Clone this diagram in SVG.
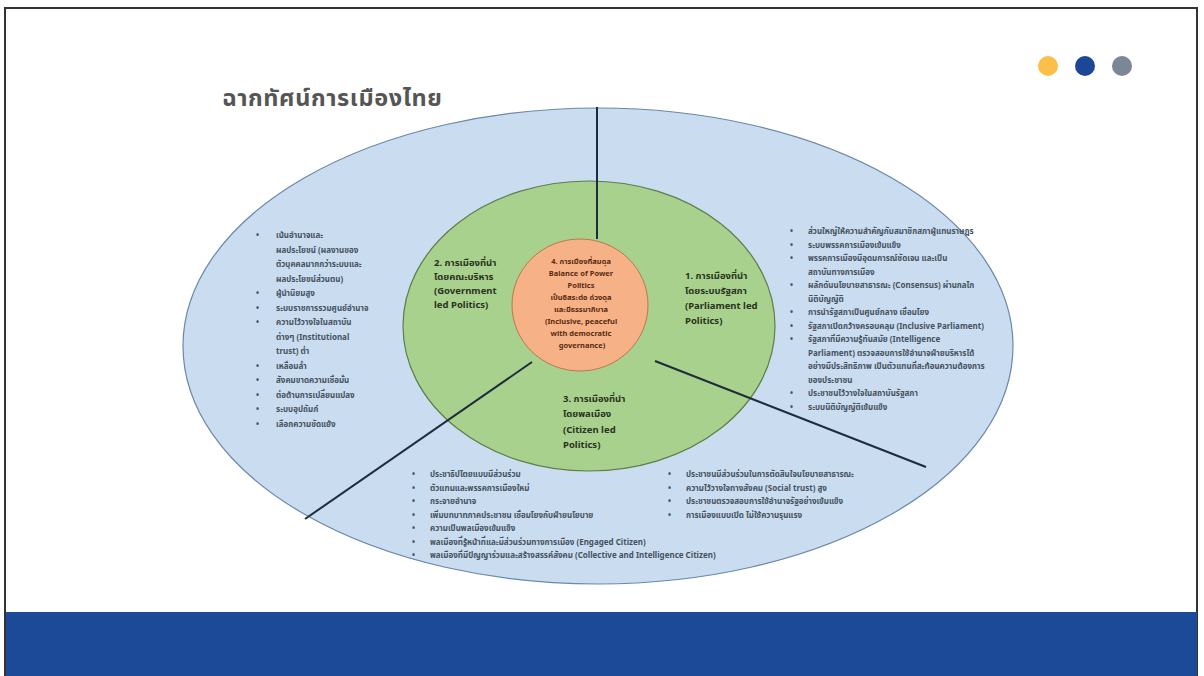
<svg xmlns="http://www.w3.org/2000/svg" width="1204" height="676" viewBox="0 0 1204 676">
<style>
.th{font-family:"Noto Sans","Noto Sans Thai","DejaVu Sans",sans-serif}
.title{font-size:23.5px;font-weight:bold;fill:#555555;letter-spacing:0.6px}
.lbl{font-size:9.5px;font-weight:bold;fill:#2a3320}
.ctr{font-size:7.5px;font-weight:bold;fill:#5a2a12}
.bl{font-size:8px;font-weight:bold;fill:#46525f}
.conn{stroke:#1f2b3a;stroke-width:2;fill:none}
</style>
<rect x="5" y="8" width="1192" height="670" fill="#ffffff" stroke="#333333" stroke-width="2"/>
<rect x="6" y="612" width="1191" height="64" fill="#1c4a98"/>
<g id="dots">
<circle cx="1048" cy="66" r="10" fill="#fbbf4a"/>
<circle cx="1085" cy="66" r="10" fill="#1c4796"/>
<circle cx="1122" cy="66" r="10" fill="#7b8797"/>
</g>
<text class="th title" x="222" y="106">ฉากทัศน์การเมืองไทย</text>
<g id="outer">
<ellipse cx="598" cy="346" rx="415" ry="238" fill="#c9dcf0" stroke="#6a88aa" stroke-width="1.2"/>
</g>
<g id="middle">
<ellipse cx="589" cy="326" rx="186" ry="145" fill="#a9d18e" stroke="#5f7d4a" stroke-width="1.2"/>
</g>
<g id="center">
<ellipse cx="580" cy="305" rx="68" ry="66" fill="#f6b286" stroke="#b9794a" stroke-width="1"/>
<text class="th ctr" text-anchor="middle">
<tspan x="582" y="264">4. การเมืองที่สมดุล</tspan>
<tspan x="582" y="276">Balance of Power</tspan>
<tspan x="582" y="288">Politics</tspan>
<tspan x="582" y="300">เป็นอิสระต่อ ถ่วงดุล</tspan>
<tspan x="582" y="312">และมีธรรมาภิบาล</tspan>
<tspan x="582" y="324">(Inclusive, peaceful</tspan>
<tspan x="582" y="336">with democratic</tspan>
<tspan x="582" y="348">governance)</tspan>
</text>
</g>
<g id="connectors">
<line class="conn" x1="597" y1="107" x2="597" y2="239"/>
<line class="conn" x1="532" y1="362" x2="305" y2="519"/>
<line class="conn" x1="655" y1="361" x2="926" y2="467"/>
</g>
<g id="gov">
<text class="th lbl">
<tspan x="434" y="266">2. การเมืองที่นำ</tspan>
<tspan x="434" y="280">โดยคณะบริหาร</tspan>
<tspan x="434" y="294">(Government</tspan>
<tspan x="434" y="308">led Politics)</tspan>
</text>
</g>
<g id="parl">
<text class="th lbl">
<tspan x="685" y="279">1. การเมืองที่นำ</tspan>
<tspan x="685" y="294">โดยระบบรัฐสภา</tspan>
<tspan x="685" y="309">(Parliament led</tspan>
<tspan x="685" y="324">Politics)</tspan>
</text>
</g>
<g id="cit">
<text class="th lbl">
<tspan x="563" y="402">3. การเมืองที่นำ</tspan>
<tspan x="563" y="417">โดยพลเมือง</tspan>
<tspan x="563" y="433">(Citizen led</tspan>
<tspan x="563" y="448">Politics)</tspan>
</text>
</g>
<g id="left-list" class="th bl">
<text x="256" y="238">•</text><text x="276" y="238">เน้นอำนาจและ</text>
<text x="276" y="252.5">ผลประโยชน์ (ผลงานของ</text>
<text x="276" y="267">ตัวบุคคลมากกว่าระบบและ</text>
<text x="276" y="281.5">ผลประโยชน์ส่วนตน)</text>
<text x="256" y="296">•</text><text x="276" y="296">ผู้นำนิยมสูง</text>
<text x="256" y="310.5">•</text><text x="276" y="310.5">ระบบราชการรวมศูนย์อำนาจ</text>
<text x="256" y="325">•</text><text x="276" y="325">ความไว้วางใจในสถาบัน</text>
<text x="276" y="339.5">ต่างๆ (Institutional</text>
<text x="276" y="354">trust) ต่ำ</text>
<text x="256" y="368.5">•</text><text x="276" y="368.5">เหลื่อมล้ำ</text>
<text x="256" y="383">•</text><text x="276" y="383">สังคมขาดความเชื่อมั่น</text>
<text x="256" y="397.5">•</text><text x="276" y="397.5">ต่อต้านการเปลี่ยนแปลง</text>
<text x="256" y="412">•</text><text x="276" y="412">ระบบอุปถัมภ์</text>
<text x="256" y="426.5">•</text><text x="276" y="426.5">เลือกความขัดแย้ง</text>
</g>
<g id="right-list" class="th bl">
<text x="790" y="234">•</text><text x="808" y="234">ส่วนใหญ่ให้ความสำคัญกับสมาชิกสภาผู้แทนราษฎร</text>
<text x="790" y="247.5">•</text><text x="808" y="247.5">ระบบพรรคการเมืองเข้มแข็ง</text>
<text x="790" y="261">•</text><text x="808" y="261">พรรคการเมืองมีอุดมการณ์ชัดเจน และเป็น</text>
<text x="808" y="274.5">สถาบันทางการเมือง</text>
<text x="790" y="288">•</text><text x="808" y="288">ผลักดันนโยบายสาธารณะ (Consensus) ผ่านกลไก</text>
<text x="808" y="301.5">นิติบัญญัติ</text>
<text x="790" y="315">•</text><text x="808" y="315">การนำรัฐสภาเป็นศูนย์กลาง เชื่อมโยง</text>
<text x="790" y="328.5">•</text><text x="808" y="328.5">รัฐสภาเปิดกว้างครอบคลุม (Inclusive Parliament)</text>
<text x="790" y="342">•</text><text x="808" y="342">รัฐสภาที่มีความรู้ทันสมัย (Intelligence</text>
<text x="808" y="355.5">Parliament) ตรวจสอบการใช้อำนาจฝ่ายบริหารได้</text>
<text x="808" y="369">อย่างมีประสิทธิภาพ เป็นตัวแทนที่สะท้อนความต้องการ</text>
<text x="808" y="382.5">ของประชาชน</text>
<text x="790" y="396">•</text><text x="808" y="396">ประชาชนไว้วางใจในสถาบันรัฐสภา</text>
<text x="790" y="409.5">•</text><text x="808" y="409.5">ระบบนิติบัญญัติเข้มแข็ง</text>
</g>
<g id="bottom-left-list" class="th bl">
<text x="412" y="477">•</text><text x="430" y="477">ประชาธิปไตยแบบมีส่วนร่วม</text>
<text x="412" y="490.5">•</text><text x="430" y="490.5">ตัวแทนและพรรคการเมืองใหม่</text>
<text x="412" y="504">•</text><text x="430" y="504">กระจายอำนาจ</text>
<text x="412" y="517.5">•</text><text x="430" y="517.5">เพิ่มบทบาทภาคประชาชน เชื่อมโยงกับฝ่ายนโยบาย</text>
<text x="412" y="531">•</text><text x="430" y="531">ความเป็นพลเมืองเข้มแข็ง</text>
<text x="412" y="544.5">•</text><text x="430" y="544.5">พลเมืองที่รู้หน้าที่และมีส่วนร่วมทางการเมือง (Engaged Citizen)</text>
<text x="412" y="558">•</text><text x="430" y="558">พลเมืองที่มีปัญญาร่วมและสร้างสรรค์สังคม (Collective and Intelligence Citizen)</text>
</g>
<g id="bottom-right-list" class="th bl">
<text x="668" y="477">•</text><text x="686" y="477">ประชาชนมีส่วนร่วมในการตัดสินใจนโยบายสาธารณะ</text>
<text x="668" y="490.5">•</text><text x="686" y="490.5">ความไว้วางใจทางสังคม (Social trust) สูง</text>
<text x="668" y="504">•</text><text x="686" y="504">ประชาชนตรวจสอบการใช้อำนาจรัฐอย่างเข้มแข็ง</text>
<text x="668" y="517.5">•</text><text x="686" y="517.5">การเมืองแบบเปิด ไม่ใช้ความรุนแรง</text>
</g>
</svg>
